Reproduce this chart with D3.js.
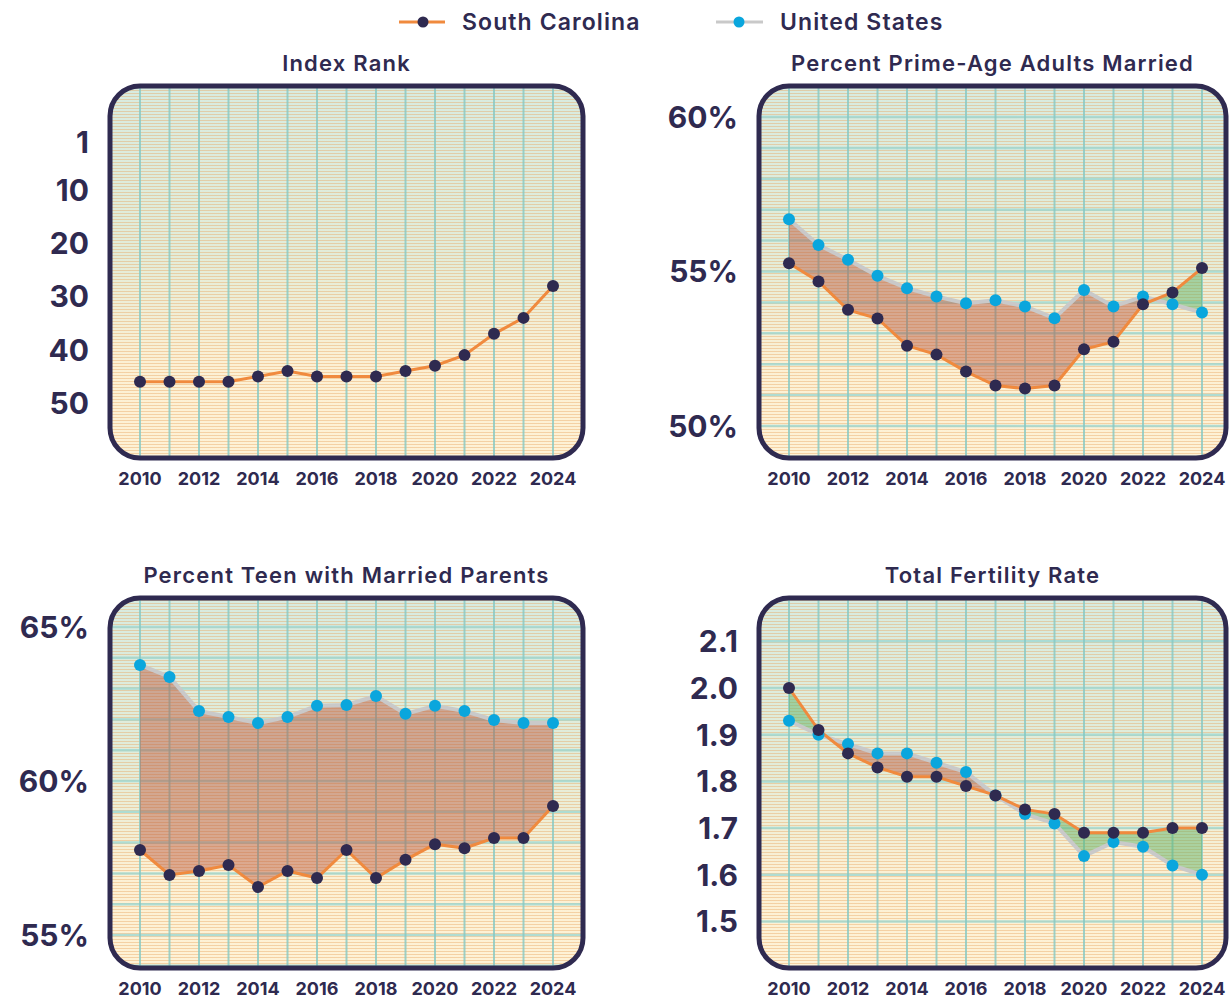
<!DOCTYPE html>
<html>
<head>
<meta charset="utf-8">
<script src="https://cdn.jsdelivr.net/npm/d3@7"></script>
<style>
  body { margin: 0; background: #fff; }
  text { font-family: "Inter", "DejaVu Sans", sans-serif; fill: #2f2a50; }
</style>
</head>
<body>
<div id="chart"></div>
<script>
// data
var years = [2010, 2011, 2012, 2013, 2014, 2015, 2016, 2017, 2018, 2019, 2020, 2021, 2022, 2023, 2024];
var yearTicks = [2010, 2012, 2014, 2016, 2018, 2020, 2022, 2024];

var rankSC = [46, 46, 46, 46, 45, 44, 45, 45, 45, 44, 43, 41, 37, 34, 28];
var rankTicks = [1, 10, 20, 30, 40, 50];

var marriedSC = [55.27, 54.68, 53.76, 53.48, 52.6, 52.31, 51.76, 51.31, 51.21, 51.31, 52.48, 52.73, 53.94, 54.32, 55.11];
var marriedUS = [56.69, 55.86, 55.38, 54.86, 54.46, 54.19, 53.97, 54.07, 53.87, 53.49, 54.4, 53.87, 54.19, 53.94, 53.67];
var marriedTicks = [50, 55, 60];

var teenSC = [57.76, 56.95, 57.08, 57.27, 56.56, 57.08, 56.85, 57.76, 56.85, 57.44, 57.95, 57.82, 58.15, 58.15, 59.19];
var teenUS = [63.77, 63.38, 62.27, 62.08, 61.88, 62.08, 62.44, 62.47, 62.76, 62.18, 62.44, 62.27, 61.98, 61.88, 61.88];
var teenTicks = [55, 60, 65];

var fertilitySC = [2.0, 1.91, 1.86, 1.83, 1.81, 1.81, 1.79, 1.77, 1.74, 1.73, 1.69, 1.69, 1.69, 1.70, 1.70];
var fertilityUS = [1.93, 1.90, 1.88, 1.86, 1.86, 1.84, 1.82, 1.77, 1.73, 1.71, 1.64, 1.67, 1.66, 1.62, 1.60];
var fertilityTicks = [1.5, 1.6, 1.7, 1.8, 1.9, 2.0, 2.1];

var navy = "#2f2a50", orange = "#f08a3e", grey = "#c9c9c9", cyan = "#0aa6dd";

var W = 1229, H = 1001;
var svg = d3.select("#chart").append("svg").attr("width", W).attr("height", H);
var defs = svg.append("defs");

var grad = defs.append("linearGradient").attr("id", "bg").attr("x1", 0).attr("y1", 0).attr("x2", 0).attr("y2", 1);
grad.append("stop").attr("offset", "0%").attr("stop-color", "#d8ebe0");
grad.append("stop").attr("offset", "45%").attr("stop-color", "#e2ecd9");
grad.append("stop").attr("offset", "75%").attr("stop-color", "#fcf0d4");
grad.append("stop").attr("offset", "100%").attr("stop-color", "#fef2d6");

var pat = defs.append("pattern").attr("id", "hatch").attr("patternUnits", "userSpaceOnUse")
  .attr("width", 8).attr("height", 3);
pat.append("rect").attr("width", 8).attr("height", 1).attr("fill", "rgba(232,165,95,0.42)");

// legend
var leg = svg.append("g");
leg.append("line").attr("x1", 399).attr("x2", 445).attr("y1", 22).attr("y2", 22).attr("stroke", orange).attr("stroke-width", 3);
leg.append("circle").attr("cx", 423).attr("cy", 22).attr("r", 5.5).attr("fill", navy);
leg.append("text").attr("x", 462).attr("y", 30).style("font-size", "23px").style("font-weight", 600)
  .style("letter-spacing", "1.1px").text("South Carolina");
leg.append("line").attr("x1", 716).attr("x2", 763).attr("y1", 22).attr("y2", 22).attr("stroke", grey).attr("stroke-width", 3);
leg.append("circle").attr("cx", 739).attr("cy", 22).attr("r", 5.5).attr("fill", cyan);
leg.append("text").attr("x", 780).attr("y", 30).style("font-size", "23px").style("font-weight", 600)
  .style("letter-spacing", "1.1px").text("United States");

var panels = [
  { id: "p1", title: "Index Rank", box: [110, 86, 583, 458], sc: rankSC, us: null,
    cal: [[0, 137], [50, 403]], grid: 10, ticks: rankTicks, fmt: function(d) { return d; } },
  { id: "p2", title: "Percent Prime-Age Adults Married", box: [759, 86, 1226, 458], sc: marriedSC, us: marriedUS,
    cal: [[60, 117], [50, 426]], grid: 1, ticks: marriedTicks, fmt: function(d) { return d + "%"; } },
  { id: "p3", title: "Percent Teen with Married Parents", box: [110, 598, 583, 968], sc: teenSC, us: teenUS,
    cal: [[65, 627], [55, 935]], grid: 1, ticks: teenTicks, fmt: function(d) { return d + "%"; } },
  { id: "p4", title: "Total Fertility Rate", box: [759, 598, 1226, 968], sc: fertilitySC, us: fertilityUS,
    cal: [[2.0, 688], [1.5, 921.5]], grid: 0.1, ticks: fertilityTicks, fmt: function(d) { return d.toFixed(1); } }
];

panels.forEach(function(p) {
  var x0 = p.box[0], y0 = p.box[1], x1 = p.box[2], y1 = p.box[3];
  var g = svg.append("g");

  var x = d3.scaleLinear().domain([2010, 2024]).range([x0 + 30, x0 + 443]);
  var y = d3.scaleLinear().domain([p.cal[0][0], p.cal[1][0]]).range([p.cal[0][1], p.cal[1][1]]);

  defs.append("clipPath").attr("id", "clip-" + p.id)
    .append("rect").attr("x", x0).attr("y", y0).attr("width", x1 - x0).attr("height", y1 - y0)
    .attr("rx", 30).attr("ry", 30);

  var inner = g.append("g").attr("clip-path", "url(#clip-" + p.id + ")");
  inner.append("rect").attr("x", x0).attr("y", y0).attr("width", x1 - x0).attr("height", y1 - y0).attr("fill", "url(#bg)");
  inner.append("rect").attr("x", x0).attr("y", y0).attr("width", x1 - x0).attr("height", y1 - y0).attr("fill", "url(#hatch)");

  // horizontal teal grid
  var lo = y.invert(y1), hi = y.invert(y0);
  var gv = [];
  for (var v = Math.ceil(lo / p.grid - 1e-6) * p.grid; v <= hi; v += p.grid) gv.push(v);
  inner.selectAll(".hg").data(gv).enter().append("line")
    .attr("x1", x0).attr("x2", x1)
    .attr("y1", function(d) { return y(d); }).attr("y2", function(d) { return y(d); })
    .attr("stroke", "#9ed8d2").attr("stroke-width", 2.5).attr("opacity", 0.8);

  // vertical grid at every year
  inner.selectAll(".vg").data(years).enter().append("line")
    .attr("x1", function(d) { return x(d); }).attr("x2", function(d) { return x(d); })
    .attr("y1", y0).attr("y2", y1)
    .attr("stroke", "#86c9c4").attr("stroke-width", 2).attr("opacity", 0.8);

  // fill between series
  if (p.us) {
    var runs = [], cur = null;
    for (var i = 0; i < years.length - 1; i++) {
      var a = p.sc[i] - p.us[i], b = p.sc[i + 1] - p.us[i + 1];
      var pieces = [];
      if (a * b < 0) {
        var t = a / (a - b);
        var xm = years[i] + t, ym = p.sc[i] + t * (p.sc[i + 1] - p.sc[i]);
        pieces.push({ s: a > 0, p0: [years[i], p.sc[i], p.us[i]], p1: [xm, ym, ym] });
        pieces.push({ s: b > 0, p0: [xm, ym, ym], p1: [years[i + 1], p.sc[i + 1], p.us[i + 1]] });
      } else {
        pieces.push({ s: (a + b) > 0, p0: [years[i], p.sc[i], p.us[i]], p1: [years[i + 1], p.sc[i + 1], p.us[i + 1]] });
      }
      pieces.forEach(function(pc) {
        if (!cur || cur.s !== pc.s) { cur = { s: pc.s, pts: [pc.p0] }; runs.push(cur); }
        cur.pts.push(pc.p1);
      });
    }
    var area = d3.area().x(function(d) { return x(d[0]); }).y0(function(d) { return y(d[1]); }).y1(function(d) { return y(d[2]); });
    inner.selectAll(".band").data(runs).enter().append("path")
      .attr("d", function(d) { return area(d.pts); })
      .attr("fill", function(d) { return d.s ? "#5fb36a" : "#b8533a"; })
      .attr("opacity", function(d) { return d.s ? 0.5 : 0.45; });

    var lineUS = d3.line().x(function(d, i) { return x(years[i]); }).y(function(d) { return y(d); });
    inner.append("path").attr("d", lineUS(p.us)).attr("fill", "none").attr("stroke", grey).attr("stroke-width", 4);
  }

  var lineSC = d3.line().x(function(d, i) { return x(years[i]); }).y(function(d) { return y(d); });
  inner.append("path").attr("d", lineSC(p.sc)).attr("fill", "none").attr("stroke", orange).attr("stroke-width", 3);

  if (p.us) {
    inner.selectAll(".dus").data(p.us).enter().append("circle")
      .attr("cx", function(d, i) { return x(years[i]); }).attr("cy", function(d) { return y(d); })
      .attr("r", 6).attr("fill", cyan);
  }
  inner.selectAll(".dsc").data(p.sc).enter().append("circle")
    .attr("cx", function(d, i) { return x(years[i]); }).attr("cy", function(d) { return y(d); })
    .attr("r", 6).attr("fill", navy);

  // frame
  g.append("rect").attr("x", x0).attr("y", y0).attr("width", x1 - x0).attr("height", y1 - y0)
    .attr("rx", 30).attr("ry", 30).attr("fill", "none").attr("stroke", navy).attr("stroke-width", 5);

  // title
  g.append("text").attr("x", (x0 + x1) / 2).attr("y", y0 - 15).attr("text-anchor", "middle")
    .style("font-size", "22px").style("font-weight", 600).style("letter-spacing", "1.2px").text(p.title);

  // y labels
  g.selectAll(".yl").data(p.ticks).enter().append("text")
    .attr("x", x0 - 21).attr("y", function(d) { return y(d); }).attr("dy", "0.36em")
    .attr("text-anchor", "end").style("font-size", "30px").style("font-weight", 700)
    .text(p.fmt);

  // x labels
  g.selectAll(".xl").data(yearTicks).enter().append("text")
    .attr("x", function(d) { return x(d); }).attr("y", y1 + 27).attr("text-anchor", "middle")
    .style("font-size", "18px").style("font-weight", 700).text(function(d) { return d; });
});
</script>
</body>
</html>
